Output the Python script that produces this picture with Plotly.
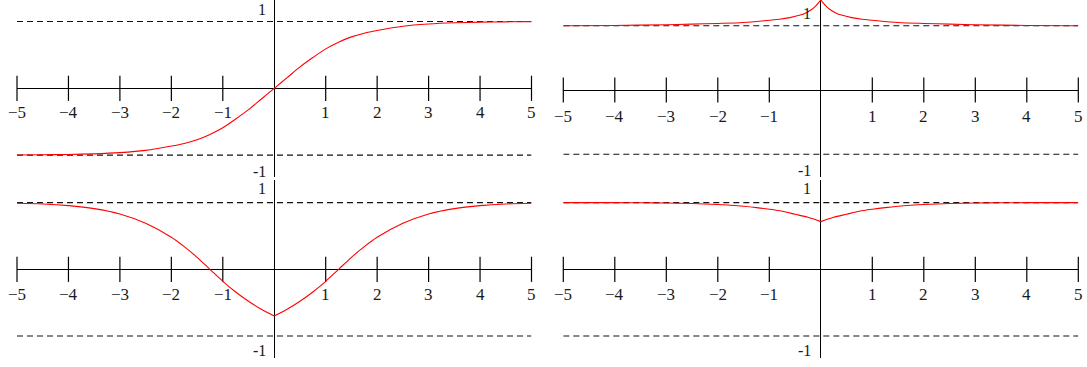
import plotly.graph_objects as go

# ---------------- data ----------------
x_min, x_max = -5, 5
tick_values = [-5, -4, -3, -2, -1, 1, 2, 3, 4, 5]
tick_labels = ["\u22125", "\u22124", "\u22123", "\u22122", "\u22121", "1", "2", "3", "4", "5"]
asymptotes = [1, -1]
asym_labels = ["1", "-1"]

x_grid = [-5, -4.5, -4, -3.5, -3, -2.5, -2, -1.75, -1.5, -1.25, -1, -0.75, -0.5, -0.25, 0,
          0.25, 0.5, 0.75, 1, 1.25, 1.5, 1.75, 2, 2.5, 3, 3.5, 4, 4.5, 5]

# top-left: odd, saturating curve
y_top_left = [-0.998, -0.995, -0.99, -0.981, -0.963, -0.93, -0.865, -0.825, -0.77, -0.69, -0.59,
              -0.46, -0.32, -0.16, 0.0, 0.16, 0.32, 0.46, 0.59, 0.69, 0.77, 0.825, 0.865, 0.93,
              0.963, 0.981, 0.99, 0.995, 0.998]

# bottom-left: even curve with a cusp at 0
y_bottom_left = [0.99, 0.98, 0.955, 0.91, 0.83, 0.69, 0.48, 0.34, 0.18, 0.0, -0.18, -0.34, -0.48,
                 -0.60, -0.70, -0.60, -0.48, -0.34, -0.18, 0.0, 0.18, 0.34, 0.48, 0.69, 0.83,
                 0.91, 0.955, 0.98, 0.99]

# bottom-right: even curve with a small dip at 0
y_bottom_right = [1.0, 1.0, 0.999, 0.997, 0.994, 0.986, 0.972, 0.96, 0.945, 0.925, 0.90, 0.87,
                  0.825, 0.78, 0.715, 0.78, 0.825, 0.87, 0.90, 0.925, 0.945, 0.96, 0.972, 0.986,
                  0.994, 0.997, 0.999, 1.0, 1.0]

# top-right: even curve with a peak at 0
x_top_right = [-5, -4, -3, -2.5, -2, -1.5, -1, -0.8, -0.6, -0.4, -0.3, -0.2, -0.1, 0,
               0.1, 0.2, 0.3, 0.4, 0.6, 0.8, 1, 1.5, 2, 2.5, 3, 4, 5]
y_top_right = [1.0, 1.004, 1.015, 1.024, 1.035, 1.05, 1.085, 1.10, 1.125, 1.165, 1.195, 1.24,
               1.305, 1.40, 1.305, 1.24, 1.195, 1.165, 1.125, 1.10, 1.085, 1.05, 1.035, 1.024,
               1.015, 1.004, 1.0]

# ---------------- layout geometry (pixels) ----------------
W, H = 1087, 367
FONT = "Liberation Serif, DejaVu Serif, serif"

panels = [
    dict(x=x_grid, y=y_top_left, cusp=False, xpx=(17, 531.5), ypx=(0, 177), y0=88.3, unit=66.8,
         tshift=-24.5, lab_dx=-6, lab_up=12.3, lab_dn=-16.3),
    dict(x=x_top_right, y=y_top_right, cusp=True, xpx=(563.3, 1078.3), ypx=(0, 177), y0=90.0, unit=64.3,
         tshift=-26, lab_dx=-8, lab_up=12.5, lab_dn=-16.3),
    dict(x=x_grid, y=y_bottom_left, cusp=True, xpx=(17, 531.5), ypx=(180, 358), y0=269.3, unit=66.7,
         tshift=-24.7, lab_dx=-6, lab_up=13.7, lab_dn=-14),
    dict(x=x_grid, y=y_bottom_right, cusp=True, xpx=(563.3, 1078.3), ypx=(180, 358), y0=269.3, unit=66.7,
         tshift=-24.7, lab_dx=-8, lab_up=13.7, lab_dn=-14),
]

fig = go.Figure()
annotations = []

for i, p in enumerate(panels, start=1):
    sfx = "" if i == 1 else str(i)
    xa, ya = "x" + sfx, "y" + sfx
    top = (p["y0"] - p["ypx"][0]) / p["unit"]
    bot = -(p["ypx"][1] - p["y0"]) / p["unit"]

    fig.update_layout(**{
        "xaxis" + sfx: dict(domain=[p["xpx"][0] / W, p["xpx"][1] / W], range=[x_min, x_max],
                            anchor=ya, showgrid=False, showticklabels=False, ticks="",
                            zeroline=True, zerolinecolor="black", zerolinewidth=1.2,
                            showline=False, fixedrange=True),
        "yaxis" + sfx: dict(domain=[1 - p["ypx"][1] / H, 1 - p["ypx"][0] / H], range=[bot, top],
                            anchor=xa, showgrid=False, showticklabels=False, ticks="",
                            zeroline=True, zerolinecolor="black", zerolinewidth=1.2,
                            showline=False, fixedrange=True),
    })

    # dashed asymptotes
    for a in asymptotes:
        fig.add_trace(go.Scatter(x=[x_min, x_max], y=[a, a], mode="lines", xaxis=xa, yaxis=ya,
                                 line=dict(color="#111111", width=1.1, dash="6px,4px"),
                                 hoverinfo="skip", showlegend=False, cliponaxis=False))

    # tick marks crossing the axis
    fig.add_trace(go.Scatter(x=tick_values, y=[0] * len(tick_values), mode="markers",
                             xaxis=xa, yaxis=ya, cliponaxis=False, hoverinfo="skip", showlegend=False,
                             marker=dict(symbol="line-ns", size=18, color="black",
                                         line=dict(color="black", width=1.2))))

    # curve (split at 0 when it has a cusp)
    xs, ys = p["x"], p["y"]
    if p["cusp"]:
        k = xs.index(0)
        parts = [(xs[:k + 1], ys[:k + 1]), (xs[k:], ys[k:])]
    else:
        parts = [(xs, ys)]
    for px_, py_ in parts:
        fig.add_trace(go.Scatter(x=px_, y=py_, mode="lines", xaxis=xa, yaxis=ya,
                                 line=dict(color="#ff0000", width=1.1, shape="spline", smoothing=0.8),
                                 cliponaxis=False, hoverinfo="skip", showlegend=False))

    # tick labels
    for v, t in zip(tick_values, tick_labels):
        annotations.append(dict(x=v, y=0, xref=xa, yref=ya, text=t, showarrow=False,
                                xanchor="center", yanchor="middle", yshift=p["tshift"],
                                font=dict(family=FONT, size=17, color="#1a1a1a")))
    # asymptote labels
    for a, t in zip(asymptotes, asym_labels):
        annotations.append(dict(x=0, y=a, xref=xa, yref=ya, text=t, showarrow=False,
                                xanchor="right", yanchor="middle", xshift=p["lab_dx"],
                                yshift=p["lab_up"] if a > 0 else p["lab_dn"],
                                font=dict(family=FONT, size=16, color="#1a1a1a")))

fig.update_layout(width=W, height=H, margin=dict(l=0, r=0, t=0, b=0),
                  paper_bgcolor="white", plot_bgcolor="white", annotations=annotations,
                  showlegend=False, font=dict(family=FONT))

fig.write_html("out.html", config={"displayModeBar": False},
               post_script="document.body.style.margin='0';document.body.style.padding='0';"
                           "document.body.style.overflow='hidden';")
